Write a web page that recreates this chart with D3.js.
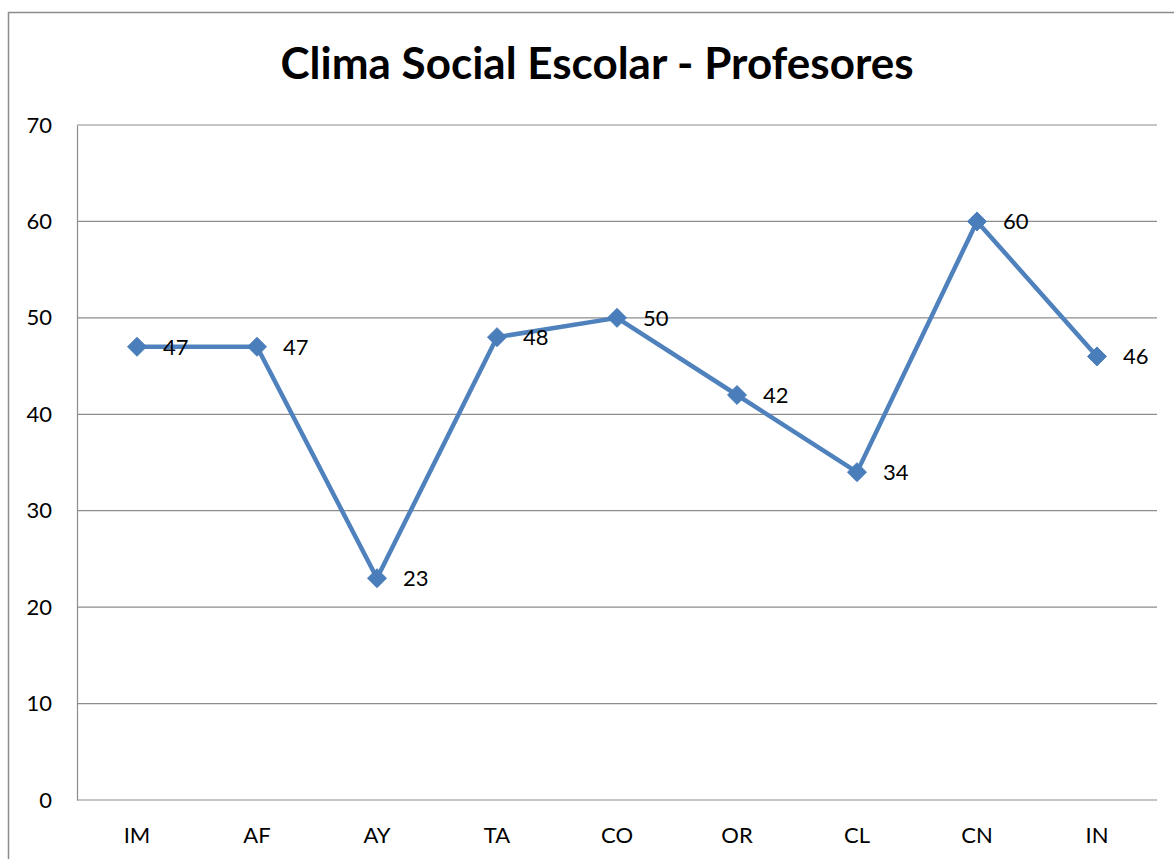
<!DOCTYPE html>
<html>
<head>
<meta charset="utf-8">
<script src="https://cdnjs.cloudflare.com/ajax/libs/d3/7.8.5/d3.min.js"></script>
<style>
  body { margin: 0; background: #fff; }
  svg { display: block; font-family: Lato, "Open Sans", sans-serif; }
</style>
</head>
<body>
<div id="chart"></div>
<script>
const categories = ['IM', 'AF', 'AY', 'TA', 'CO', 'OR', 'CL', 'CN', 'IN'];
const values = [47, 47, 23, 48, 50, 42, 34, 60, 46];
const yTicks = [0, 10, 20, 30, 40, 50, 60, 70];

const width = 1174;
const height = 859;
const margin = { top: 125, right: 17, bottom: 59, left: 77 };
const innerWidth = width - margin.left - margin.right;
const innerHeight = height - margin.top - margin.bottom;

const svg = d3.select('#chart')
  .append('svg')
  .attr('width', width)
  .attr('height', height);

// outer chart border, only left and top edges are inside the page
svg.append('path')
  .attr('d', `M8.5,${height}V12.5H${width}`)
  .attr('fill', 'none')
  .attr('stroke', '#8c8c8c')
  .attr('stroke-width', 1.5);

svg.append('text')
  .attr('x', 597)
  .attr('y', 79)
  .attr('text-anchor', 'middle')
  .attr('font-size', 44)
  .attr('font-weight', 'bold')
  .text('Clima Social Escolar - Profesores');

const g = svg.append('g')
  .attr('transform', `translate(${margin.left},${margin.top})`);

const x = d3.scaleBand()
  .domain(categories)
  .range([0, innerWidth]);

const y = d3.scaleLinear()
  .domain([0, 70])
  .range([innerHeight, 0]);

// gridlines
g.append('g')
  .selectAll('line')
  .data(yTicks)
  .enter()
  .append('line')
  .attr('x1', 0)
  .attr('x2', innerWidth)
  .attr('y1', d => y(d))
  .attr('y2', d => y(d))
  .attr('stroke', '#8c8c8c')
  .attr('stroke-width', 1.2);

const yAxis = g.append('g')
  .call(d3.axisLeft(y).tickValues(yTicks).tickSize(0).tickPadding(25));
yAxis.select('.domain').attr('stroke', '#8c8c8c').attr('stroke-width', 1.2);
yAxis.selectAll('text').attr('font-size', 22).attr('fill', '#000').attr('font-family', 'Lato, sans-serif');

const xAxis = g.append('g')
  .attr('transform', `translate(0,${innerHeight})`)
  .call(d3.axisBottom(x).tickSize(0).tickPadding(27));
xAxis.select('.domain').remove();
xAxis.selectAll('text').attr('font-size', 22).attr('fill', '#000').attr('font-family', 'Lato, sans-serif');

const points = categories.map((c, i) => ({ cat: c, value: values[i] }));

const line = d3.line()
  .x(d => x(d.cat) + x.bandwidth() / 2)
  .y(d => y(d.value));

g.append('path')
  .datum(points)
  .attr('d', line)
  .attr('fill', 'none')
  .attr('stroke', '#4f81bd')
  .attr('stroke-width', 4.5)
  .attr('stroke-linejoin', 'round');

g.selectAll('.marker')
  .data(points)
  .enter()
  .append('path')
  .attr('class', 'marker')
  .attr('d', d3.symbol(d3.symbolDiamond2, 230))
  .attr('transform', d => `translate(${x(d.cat) + x.bandwidth() / 2},${y(d.value)})`)
  .attr('fill', '#4a7ebb')
  .attr('stroke', '#4a7ebb')
  .attr('stroke-width', 1);

g.selectAll('.label')
  .data(points)
  .enter()
  .append('text')
  .attr('class', 'label')
  .attr('x', d => x(d.cat) + x.bandwidth() / 2 + 26)
  .attr('y', d => y(d.value) + 8)
  .attr('font-size', 22)
  .text(d => d.value);
</script>
</body>
</html>
